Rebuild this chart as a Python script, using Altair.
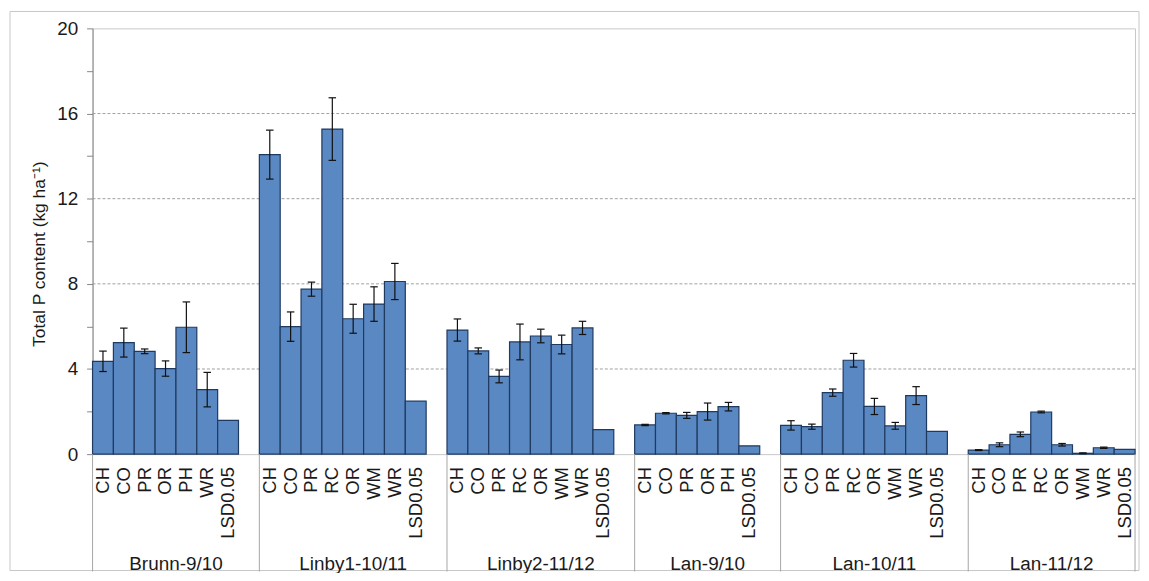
import altair as alt
import pandas as pd

# ---------------- data ----------------
groups = ["Brunn-9/10", "Linby1-10/11", "Linby2-11/12", "Lan-9/10", "Lan-10/11", "Lan-11/12"]

brunn_cats = ["CH", "CO", "PR", "OR", "PH", "WR", "LSD0.05"]
brunn_vals = [4.36, 5.24, 4.83, 4.02, 5.96, 3.03, 1.59]
brunn_err = [0.48, 0.68, 0.11, 0.36, 1.19, 0.81, None]

linby1_cats = ["CH", "CO", "PR", "RC", "OR", "WM", "WR", "LSD0.05"]
linby1_vals = [14.07, 5.99, 7.75, 15.27, 6.36, 7.05, 8.11, 2.49]
linby1_err = [1.15, 0.69, 0.33, 1.47, 0.68, 0.81, 0.85, None]

linby2_cats = ["CH", "CO", "PR", "RC", "OR", "WM", "WR", "LSD0.05"]
linby2_vals = [5.83, 4.85, 3.65, 5.27, 5.55, 5.15, 5.93, 1.15]
linby2_err = [0.52, 0.14, 0.30, 0.84, 0.32, 0.44, 0.31, None]

lan910_cats = ["CH", "CO", "PR", "OR", "PH", "LSD0.05"]
lan910_vals = [1.37, 1.92, 1.82, 2.00, 2.23, 0.39]
lan910_err = [0.03, 0.03, 0.14, 0.40, 0.20, None]

lan1011_cats = ["CH", "CO", "PR", "RC", "OR", "WM", "WR", "LSD0.05"]
lan1011_vals = [1.35, 1.29, 2.89, 4.41, 2.24, 1.33, 2.75, 1.07]
lan1011_err = [0.22, 0.12, 0.17, 0.32, 0.38, 0.16, 0.42, None]

lan1112_cats = ["CH", "CO", "PR", "RC", "OR", "WM", "WR", "LSD0.05"]
lan1112_vals = [0.19, 0.44, 0.93, 1.98, 0.44, 0.04, 0.30, 0.22]
lan1112_err = [0.02, 0.09, 0.11, 0.04, 0.06, 0.02, 0.03, None]

y_major = [0, 4, 8, 12, 16, 20]
y_all_ticks = [0, 2, 4, 6, 8, 10, 12, 14, 16, 18, 20]
grid_values = [4, 8, 12, 16]
y_title = "Total P content  (kg ha\u207b\u00b9)"

# ---------------- build tables ----------------
all_cats = [brunn_cats, linby1_cats, linby2_cats, lan910_cats, lan1011_cats, lan1112_cats]
all_vals = [brunn_vals, linby1_vals, linby2_vals, lan910_vals, lan1011_vals, lan1112_vals]
all_errs = [brunn_err, linby1_err, linby2_err, lan910_err, lan1011_err, lan1112_err]

rows, grows, bounds = [], [], [0]
slot = 0
for gi, g in enumerate(groups):
    start = slot
    for c, v, e in zip(all_cats[gi], all_vals[gi], all_errs[gi]):
        rows.append(dict(group=g, cat=c, value=v, x0=slot, x1=slot + 1, xc=slot + 0.5,
                         lo=(v - e) if e is not None else None,
                         hi=(v + e) if e is not None else None,
                         cl=slot + 0.32, cr=slot + 0.68))
        slot += 1
    if gi < len(groups) - 1:
        slot += 1  # empty category closing the group
    bounds.append(slot)
    grows.append(dict(group=g, gc=(start + slot) / 2))

df = pd.DataFrame(rows)
dfe = df.dropna(subset=["lo"])
dg = pd.DataFrame(grows)
db = pd.DataFrame({"b": bounds})
dgrid = pd.DataFrame({"g": grid_values})

W, H = 1048, 428
FONT = "Liberation Sans"
TXT = "#1a1a1a"
AX = "#868686"

xs = alt.Scale(domain=[0, slot], nice=False, zero=False)
ys = alt.Scale(domain=[0, 20], nice=False)

frame = alt.Chart(pd.DataFrame({"k": [0]})).mark_rect(
    filled=False, stroke="#C8C8C8", strokeWidth=1
).encode(x=alt.value(-83), x2=alt.value(W + 4), y=alt.value(-17), y2=alt.value(H + 117))

grid = alt.Chart(dgrid).mark_rule(color="#A0A0A0", strokeDash=[3, 2], strokeWidth=1).encode(
    y=alt.Y("g:Q", scale=ys)
)

bars = alt.Chart(df).mark_bar(fill="#5A88C2", stroke="#1F3A60", strokeWidth=1.2).encode(
    x=alt.X("x0:Q", scale=xs, axis=None),
    x2="x1",
    y=alt.Y("value:Q", scale=ys, axis=alt.Axis(
        values=y_all_ticks,
        labelExpr="datum.value % 4 == 0 ? datum.label : ''",
        title=None, grid=False, tickSize=6, tickColor=AX, domainColor=AX,
        labelFont=FONT, labelFontSize=19, labelColor=TXT, labelPadding=9,
    )),
    y2=alt.datum(0),
)

err_v = alt.Chart(dfe).mark_rule(color="#111111", strokeWidth=1.2).encode(
    x=alt.X("xc:Q", scale=xs), y=alt.Y("lo:Q", scale=ys), y2="hi"
)
cap_lo = alt.Chart(dfe).mark_rule(color="#111111", strokeWidth=1.2).encode(
    x=alt.X("cl:Q", scale=xs), x2="cr", y=alt.Y("lo:Q", scale=ys)
)
cap_hi = alt.Chart(dfe).mark_rule(color="#111111", strokeWidth=1.2).encode(
    x=alt.X("cl:Q", scale=xs), x2="cr", y=alt.Y("hi:Q", scale=ys)
)

dividers = alt.Chart(db).mark_rule(color="#A6A6A6", strokeWidth=1).encode(
    x=alt.X("b:Q", scale=xs), y=alt.value(H), y2=alt.value(H + 118)
)

cat_labels = alt.Chart(df).mark_text(
    angle=270, align="right", baseline="middle", font=FONT, fontSize=18.5, color=TXT
).encode(x=alt.X("xc:Q", scale=xs), y=alt.value(H + 13), text="cat:N")

group_labels = alt.Chart(dg).mark_text(
    align="center", baseline="alphabetic", font=FONT, fontSize=19, color=TXT
).encode(x=alt.X("gc:Q", scale=xs), y=alt.value(H + 116), text="group:N")

ytitle = alt.Chart(pd.DataFrame({"t": [y_title]})).mark_text(
    angle=270, align="center", baseline="middle", font=FONT, fontSize=17.5, color=TXT
).encode(x=alt.value(-53), y=alt.value(227), text="t:N")

chart = alt.layer(
    frame, grid, bars, err_v, cap_lo, cap_hi, dividers, cat_labels, group_labels, ytitle
).properties(
    width=W, height=H,
    autosize=alt.AutoSizeParams(type="none"),
    padding={"left": 85, "top": 19, "right": 6, "bottom": 118},
    background="white",
).configure_view(stroke="#C8C8C8", strokeWidth=1)

chart.save("out.html", embed_options={"renderer": "svg", "actions": False})
